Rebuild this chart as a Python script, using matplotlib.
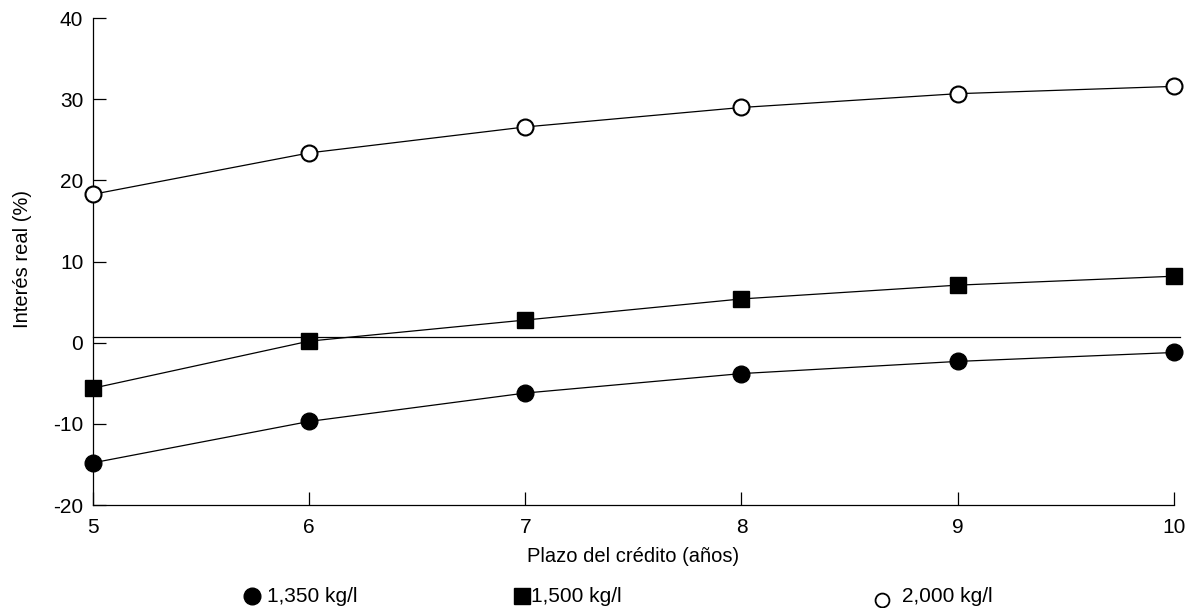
import matplotlib
matplotlib.use("Agg")
import matplotlib.pyplot as plt
from matplotlib.lines import Line2D

plt.rcParams['font.family'] = ['Liberation Sans', 'DejaVu Sans']
plt.rcParams['axes.unicode_minus'] = False

# data
plazo = [5, 6, 7, 8, 9, 10]
kg_1350 = [-14.8, -9.7, -6.2, -3.8, -2.3, -1.2]
kg_1500 = [-5.6, 0.2, 2.8, 5.4, 7.1, 8.2]
kg_2000 = [18.3, 23.4, 26.6, 29.0, 30.7, 31.6]
referencia = 0.7
labels = ['1,350 kg/l', '1,500 kg/l', '2,000 kg/l']

fig = plt.figure(figsize=(11.85, 6.08), dpi=100)
ax = fig.add_axes([0.0785, 0.1694, 0.912, 0.8006])

ax.axhline(referencia, xmin=0, xmax=1.006, color='black', lw=0.9, clip_on=False)

ax.plot(plazo, kg_1350, color='black', lw=0.9, marker='o', ms=12,
        mfc='black', mec='black', clip_on=False, zorder=3)
ax.plot(plazo, kg_1500, color='black', lw=0.9, marker='s', ms=12,
        mfc='black', mec='black', clip_on=False, zorder=3)
ax.plot(plazo, kg_2000, color='black', lw=0.9, marker='o', ms=11.5,
        mfc='white', mec='black', mew=1.5, clip_on=False, zorder=3)

ax.set_xlim(5, 10)
ax.set_ylim(-20, 40)
ax.set_xticks(plazo)
ax.set_yticks(range(-20, 41, 10))
ax.spines['top'].set_visible(False)
ax.spines['right'].set_visible(False)
ax.spines['left'].set_linewidth(0.9)
ax.spines['bottom'].set_linewidth(0.9)
ax.tick_params(direction='in', length=9.5, width=0.9, labelsize=15)
ax.tick_params(axis='x', pad=9)
ax.tick_params(axis='y', pad=7)

fig.text(0.534, 0.0839, 'Plazo del crédito (años)', fontsize=14.5,
         ha='center', va='center')
fig.text(0.0186, 0.574, 'Interés real (%)', fontsize=14.5, rotation=90,
         ha='center', va='center')

# legend row under the axis
legend_x = [0.2127, 0.4405, 0.744]
text_x = [0.2253, 0.448, 0.761]
styles = [dict(marker='o', mfc='black', ms=12),
          dict(marker='s', mfc='black', ms=12),
          dict(marker='o', mfc='white', ms=10, mew=1.3)]
for lx, tx, lab, st in zip(legend_x, text_x, labels, styles):
    dy = -0.006 if st['mfc'] == 'white' else 0
    fig.add_artist(Line2D([lx], [0.019 + dy], transform=fig.transFigure,
                          color='black', mec='black', ls='none', **st))
    fig.text(tx, 0.019, lab, fontsize=15, va='center', ha='left')

fig.savefig('out.png', dpi=100)
